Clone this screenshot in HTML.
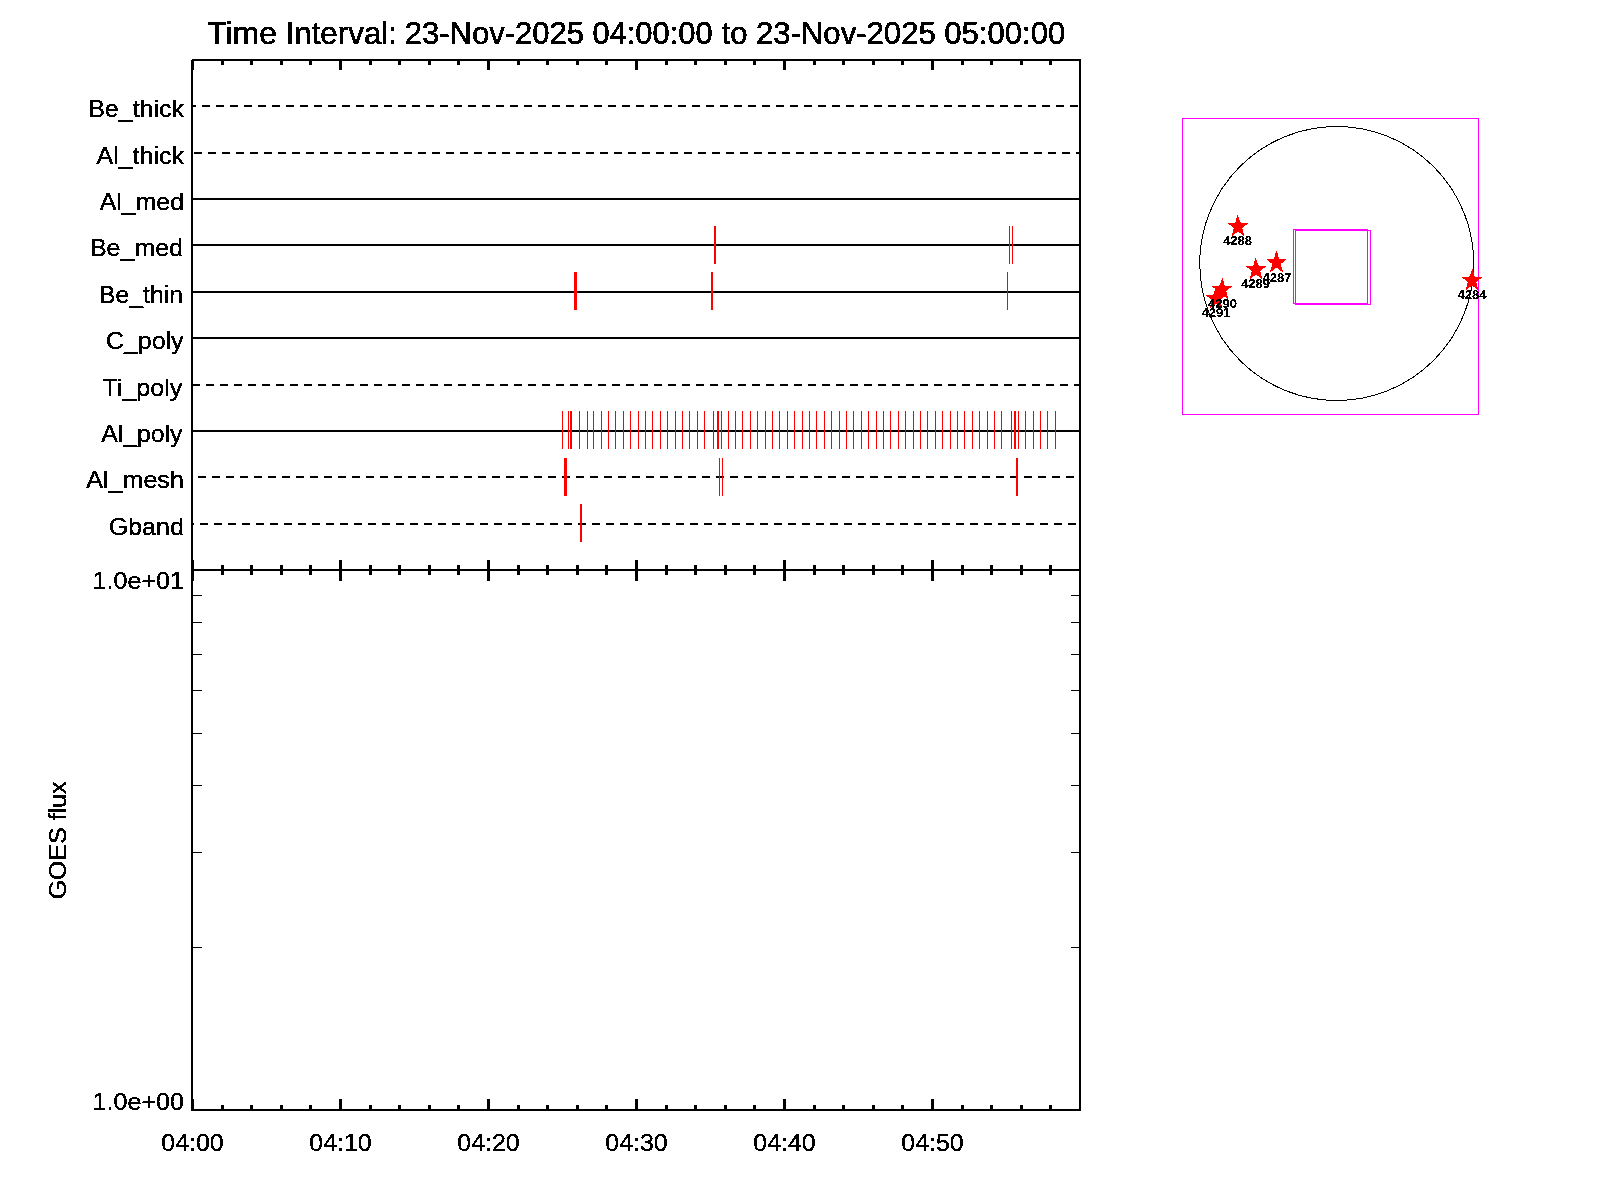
<!DOCTYPE html>
<html><head><meta charset="utf-8"><title>XRT timeline</title>
<style>html,body{margin:0;padding:0;background:#fff;overflow:hidden;width:1600px;height:1200px}svg{display:block}text{font-family:"Liberation Sans",sans-serif;fill:#000}</style>
</head><body>
<svg width="1600" height="1200" viewBox="0 0 1600 1200">
<rect x="0" y="0" width="1600" height="1200" fill="#fff"/>
<defs><filter id="thr" x="0" y="0" width="1600" height="1200" filterUnits="userSpaceOnUse" color-interpolation-filters="sRGB"><feComponentTransfer><feFuncA type="discrete" tableValues="0 1 1 1"/></feComponentTransfer></filter><filter id="thr2" x="0" y="0" width="1600" height="1200" filterUnits="userSpaceOnUse" color-interpolation-filters="sRGB"><feComponentTransfer><feFuncA type="discrete" tableValues="0 0 1 1 1"/></feComponentTransfer></filter><filter id="thr3" x="0" y="0" width="1600" height="1200" filterUnits="userSpaceOnUse" color-interpolation-filters="sRGB"><feComponentTransfer><feFuncA type="discrete" tableValues="0 1 1 1 1 1 1"/></feComponentTransfer></filter></defs>
<g shape-rendering="crispEdges">
<rect x="191" y="59" width="2" height="1052" fill="#000"/>
<rect x="1079" y="59" width="2" height="1052" fill="#000"/>
<rect x="191" y="59" width="890" height="2" fill="#000"/>
<rect x="191" y="569" width="890" height="2" fill="#000"/>
<rect x="191" y="1109" width="890" height="2" fill="#000"/>
<rect x="191" y="59" width="1" height="1" fill="#fff"/>
<rect x="192" y="61" width="2" height="9" fill="#000"/>
<rect x="192" y="560" width="2" height="21" fill="#000"/>
<rect x="192" y="1099" width="2" height="10" fill="#000"/>
<rect x="221" y="61" width="3" height="4" fill="#000"/>
<rect x="221" y="565" width="3" height="10" fill="#000"/>
<rect x="221" y="1105" width="3" height="4" fill="#000"/>
<rect x="250" y="61" width="3" height="4" fill="#000"/>
<rect x="250" y="565" width="3" height="10" fill="#000"/>
<rect x="250" y="1105" width="3" height="4" fill="#000"/>
<rect x="280" y="61" width="3" height="4" fill="#000"/>
<rect x="280" y="565" width="3" height="10" fill="#000"/>
<rect x="280" y="1105" width="3" height="4" fill="#000"/>
<rect x="309" y="61" width="3" height="4" fill="#000"/>
<rect x="309" y="565" width="3" height="10" fill="#000"/>
<rect x="309" y="1105" width="3" height="4" fill="#000"/>
<rect x="339" y="61" width="3" height="9" fill="#000"/>
<rect x="339" y="560" width="3" height="21" fill="#000"/>
<rect x="339" y="1099" width="3" height="10" fill="#000"/>
<rect x="369" y="61" width="3" height="4" fill="#000"/>
<rect x="369" y="565" width="3" height="10" fill="#000"/>
<rect x="369" y="1105" width="3" height="4" fill="#000"/>
<rect x="398" y="61" width="3" height="4" fill="#000"/>
<rect x="398" y="565" width="3" height="10" fill="#000"/>
<rect x="398" y="1105" width="3" height="4" fill="#000"/>
<rect x="428" y="61" width="3" height="4" fill="#000"/>
<rect x="428" y="565" width="3" height="10" fill="#000"/>
<rect x="428" y="1105" width="3" height="4" fill="#000"/>
<rect x="457" y="61" width="3" height="4" fill="#000"/>
<rect x="457" y="565" width="3" height="10" fill="#000"/>
<rect x="457" y="1105" width="3" height="4" fill="#000"/>
<rect x="487" y="61" width="3" height="9" fill="#000"/>
<rect x="487" y="560" width="3" height="21" fill="#000"/>
<rect x="487" y="1099" width="3" height="10" fill="#000"/>
<rect x="517" y="61" width="3" height="4" fill="#000"/>
<rect x="517" y="565" width="3" height="10" fill="#000"/>
<rect x="517" y="1105" width="3" height="4" fill="#000"/>
<rect x="546" y="61" width="3" height="4" fill="#000"/>
<rect x="546" y="565" width="3" height="10" fill="#000"/>
<rect x="546" y="1105" width="3" height="4" fill="#000"/>
<rect x="576" y="61" width="3" height="4" fill="#000"/>
<rect x="576" y="565" width="3" height="10" fill="#000"/>
<rect x="576" y="1105" width="3" height="4" fill="#000"/>
<rect x="605" y="61" width="3" height="4" fill="#000"/>
<rect x="605" y="565" width="3" height="10" fill="#000"/>
<rect x="605" y="1105" width="3" height="4" fill="#000"/>
<rect x="635" y="61" width="3" height="9" fill="#000"/>
<rect x="635" y="560" width="3" height="21" fill="#000"/>
<rect x="635" y="1099" width="3" height="10" fill="#000"/>
<rect x="665" y="61" width="3" height="4" fill="#000"/>
<rect x="665" y="565" width="3" height="10" fill="#000"/>
<rect x="665" y="1105" width="3" height="4" fill="#000"/>
<rect x="694" y="61" width="3" height="4" fill="#000"/>
<rect x="694" y="565" width="3" height="10" fill="#000"/>
<rect x="694" y="1105" width="3" height="4" fill="#000"/>
<rect x="724" y="61" width="3" height="4" fill="#000"/>
<rect x="724" y="565" width="3" height="10" fill="#000"/>
<rect x="724" y="1105" width="3" height="4" fill="#000"/>
<rect x="753" y="61" width="3" height="4" fill="#000"/>
<rect x="753" y="565" width="3" height="10" fill="#000"/>
<rect x="753" y="1105" width="3" height="4" fill="#000"/>
<rect x="783" y="61" width="3" height="9" fill="#000"/>
<rect x="783" y="560" width="3" height="21" fill="#000"/>
<rect x="783" y="1099" width="3" height="10" fill="#000"/>
<rect x="813" y="61" width="3" height="4" fill="#000"/>
<rect x="813" y="565" width="3" height="10" fill="#000"/>
<rect x="813" y="1105" width="3" height="4" fill="#000"/>
<rect x="842" y="61" width="3" height="4" fill="#000"/>
<rect x="842" y="565" width="3" height="10" fill="#000"/>
<rect x="842" y="1105" width="3" height="4" fill="#000"/>
<rect x="872" y="61" width="3" height="4" fill="#000"/>
<rect x="872" y="565" width="3" height="10" fill="#000"/>
<rect x="872" y="1105" width="3" height="4" fill="#000"/>
<rect x="901" y="61" width="3" height="4" fill="#000"/>
<rect x="901" y="565" width="3" height="10" fill="#000"/>
<rect x="901" y="1105" width="3" height="4" fill="#000"/>
<rect x="931" y="61" width="3" height="9" fill="#000"/>
<rect x="931" y="560" width="3" height="21" fill="#000"/>
<rect x="931" y="1099" width="3" height="10" fill="#000"/>
<rect x="961" y="61" width="3" height="4" fill="#000"/>
<rect x="961" y="565" width="3" height="10" fill="#000"/>
<rect x="961" y="1105" width="3" height="4" fill="#000"/>
<rect x="990" y="61" width="3" height="4" fill="#000"/>
<rect x="990" y="565" width="3" height="10" fill="#000"/>
<rect x="990" y="1105" width="3" height="4" fill="#000"/>
<rect x="1020" y="61" width="3" height="4" fill="#000"/>
<rect x="1020" y="565" width="3" height="10" fill="#000"/>
<rect x="1020" y="1105" width="3" height="4" fill="#000"/>
<rect x="1049" y="61" width="3" height="4" fill="#000"/>
<rect x="1049" y="565" width="3" height="10" fill="#000"/>
<rect x="1049" y="1105" width="3" height="4" fill="#000"/>
<rect x="193" y="595" width="9" height="1" fill="#000"/>
<rect x="1071" y="595" width="8" height="1" fill="#000"/>
<rect x="193" y="622" width="9" height="1" fill="#000"/>
<rect x="1071" y="622" width="8" height="1" fill="#000"/>
<rect x="193" y="654" width="9" height="1" fill="#000"/>
<rect x="1071" y="654" width="8" height="1" fill="#000"/>
<rect x="193" y="690" width="9" height="1" fill="#000"/>
<rect x="1071" y="690" width="8" height="1" fill="#000"/>
<rect x="193" y="733" width="9" height="1" fill="#000"/>
<rect x="1071" y="733" width="8" height="1" fill="#000"/>
<rect x="193" y="785" width="9" height="1" fill="#000"/>
<rect x="1071" y="785" width="8" height="1" fill="#000"/>
<rect x="193" y="852" width="9" height="1" fill="#000"/>
<rect x="1071" y="852" width="8" height="1" fill="#000"/>
<rect x="193" y="947" width="9" height="1" fill="#000"/>
<rect x="1071" y="947" width="8" height="1" fill="#000"/>
<rect x="193" y="105" width="3" height="2" fill="#000"/>
<rect x="202" y="105" width="8" height="2" fill="#000"/>
<rect x="216" y="105" width="8" height="2" fill="#000"/>
<rect x="230" y="105" width="8" height="2" fill="#000"/>
<rect x="244" y="105" width="8" height="2" fill="#000"/>
<rect x="258" y="105" width="8" height="2" fill="#000"/>
<rect x="272" y="105" width="8" height="2" fill="#000"/>
<rect x="286" y="105" width="8" height="2" fill="#000"/>
<rect x="300" y="105" width="8" height="2" fill="#000"/>
<rect x="314" y="105" width="8" height="2" fill="#000"/>
<rect x="328" y="105" width="8" height="2" fill="#000"/>
<rect x="342" y="105" width="8" height="2" fill="#000"/>
<rect x="356" y="105" width="8" height="2" fill="#000"/>
<rect x="370" y="105" width="8" height="2" fill="#000"/>
<rect x="384" y="105" width="8" height="2" fill="#000"/>
<rect x="398" y="105" width="8" height="2" fill="#000"/>
<rect x="412" y="105" width="8" height="2" fill="#000"/>
<rect x="426" y="105" width="8" height="2" fill="#000"/>
<rect x="440" y="105" width="8" height="2" fill="#000"/>
<rect x="454" y="105" width="8" height="2" fill="#000"/>
<rect x="468" y="105" width="8" height="2" fill="#000"/>
<rect x="482" y="105" width="8" height="2" fill="#000"/>
<rect x="496" y="105" width="8" height="2" fill="#000"/>
<rect x="510" y="105" width="8" height="2" fill="#000"/>
<rect x="524" y="105" width="8" height="2" fill="#000"/>
<rect x="538" y="105" width="8" height="2" fill="#000"/>
<rect x="552" y="105" width="8" height="2" fill="#000"/>
<rect x="566" y="105" width="8" height="2" fill="#000"/>
<rect x="580" y="105" width="8" height="2" fill="#000"/>
<rect x="594" y="105" width="8" height="2" fill="#000"/>
<rect x="608" y="105" width="8" height="2" fill="#000"/>
<rect x="622" y="105" width="8" height="2" fill="#000"/>
<rect x="636" y="105" width="8" height="2" fill="#000"/>
<rect x="650" y="105" width="8" height="2" fill="#000"/>
<rect x="664" y="105" width="8" height="2" fill="#000"/>
<rect x="678" y="105" width="8" height="2" fill="#000"/>
<rect x="692" y="105" width="8" height="2" fill="#000"/>
<rect x="706" y="105" width="8" height="2" fill="#000"/>
<rect x="720" y="105" width="8" height="2" fill="#000"/>
<rect x="734" y="105" width="8" height="2" fill="#000"/>
<rect x="748" y="105" width="8" height="2" fill="#000"/>
<rect x="762" y="105" width="8" height="2" fill="#000"/>
<rect x="776" y="105" width="8" height="2" fill="#000"/>
<rect x="790" y="105" width="8" height="2" fill="#000"/>
<rect x="804" y="105" width="8" height="2" fill="#000"/>
<rect x="818" y="105" width="8" height="2" fill="#000"/>
<rect x="832" y="105" width="8" height="2" fill="#000"/>
<rect x="846" y="105" width="8" height="2" fill="#000"/>
<rect x="860" y="105" width="8" height="2" fill="#000"/>
<rect x="874" y="105" width="8" height="2" fill="#000"/>
<rect x="888" y="105" width="8" height="2" fill="#000"/>
<rect x="902" y="105" width="8" height="2" fill="#000"/>
<rect x="916" y="105" width="8" height="2" fill="#000"/>
<rect x="930" y="105" width="8" height="2" fill="#000"/>
<rect x="944" y="105" width="8" height="2" fill="#000"/>
<rect x="958" y="105" width="8" height="2" fill="#000"/>
<rect x="972" y="105" width="8" height="2" fill="#000"/>
<rect x="986" y="105" width="8" height="2" fill="#000"/>
<rect x="1000" y="105" width="8" height="2" fill="#000"/>
<rect x="1014" y="105" width="8" height="2" fill="#000"/>
<rect x="1028" y="105" width="8" height="2" fill="#000"/>
<rect x="1042" y="105" width="8" height="2" fill="#000"/>
<rect x="1056" y="105" width="8" height="2" fill="#000"/>
<rect x="1070" y="105" width="8" height="2" fill="#000"/>
<rect x="194" y="152" width="8" height="2" fill="#000"/>
<rect x="208" y="152" width="8" height="2" fill="#000"/>
<rect x="222" y="152" width="8" height="2" fill="#000"/>
<rect x="236" y="152" width="8" height="2" fill="#000"/>
<rect x="250" y="152" width="8" height="2" fill="#000"/>
<rect x="264" y="152" width="8" height="2" fill="#000"/>
<rect x="278" y="152" width="8" height="2" fill="#000"/>
<rect x="292" y="152" width="8" height="2" fill="#000"/>
<rect x="306" y="152" width="8" height="2" fill="#000"/>
<rect x="320" y="152" width="8" height="2" fill="#000"/>
<rect x="334" y="152" width="8" height="2" fill="#000"/>
<rect x="348" y="152" width="8" height="2" fill="#000"/>
<rect x="362" y="152" width="8" height="2" fill="#000"/>
<rect x="376" y="152" width="8" height="2" fill="#000"/>
<rect x="390" y="152" width="8" height="2" fill="#000"/>
<rect x="404" y="152" width="8" height="2" fill="#000"/>
<rect x="418" y="152" width="8" height="2" fill="#000"/>
<rect x="432" y="152" width="8" height="2" fill="#000"/>
<rect x="446" y="152" width="8" height="2" fill="#000"/>
<rect x="460" y="152" width="8" height="2" fill="#000"/>
<rect x="474" y="152" width="8" height="2" fill="#000"/>
<rect x="488" y="152" width="8" height="2" fill="#000"/>
<rect x="502" y="152" width="8" height="2" fill="#000"/>
<rect x="516" y="152" width="8" height="2" fill="#000"/>
<rect x="530" y="152" width="8" height="2" fill="#000"/>
<rect x="544" y="152" width="8" height="2" fill="#000"/>
<rect x="558" y="152" width="8" height="2" fill="#000"/>
<rect x="572" y="152" width="8" height="2" fill="#000"/>
<rect x="586" y="152" width="8" height="2" fill="#000"/>
<rect x="600" y="152" width="8" height="2" fill="#000"/>
<rect x="614" y="152" width="8" height="2" fill="#000"/>
<rect x="628" y="152" width="8" height="2" fill="#000"/>
<rect x="642" y="152" width="8" height="2" fill="#000"/>
<rect x="656" y="152" width="8" height="2" fill="#000"/>
<rect x="670" y="152" width="8" height="2" fill="#000"/>
<rect x="684" y="152" width="8" height="2" fill="#000"/>
<rect x="698" y="152" width="8" height="2" fill="#000"/>
<rect x="712" y="152" width="8" height="2" fill="#000"/>
<rect x="726" y="152" width="8" height="2" fill="#000"/>
<rect x="740" y="152" width="8" height="2" fill="#000"/>
<rect x="754" y="152" width="8" height="2" fill="#000"/>
<rect x="768" y="152" width="8" height="2" fill="#000"/>
<rect x="782" y="152" width="8" height="2" fill="#000"/>
<rect x="796" y="152" width="8" height="2" fill="#000"/>
<rect x="810" y="152" width="8" height="2" fill="#000"/>
<rect x="824" y="152" width="8" height="2" fill="#000"/>
<rect x="838" y="152" width="8" height="2" fill="#000"/>
<rect x="852" y="152" width="8" height="2" fill="#000"/>
<rect x="866" y="152" width="8" height="2" fill="#000"/>
<rect x="880" y="152" width="8" height="2" fill="#000"/>
<rect x="894" y="152" width="8" height="2" fill="#000"/>
<rect x="908" y="152" width="8" height="2" fill="#000"/>
<rect x="922" y="152" width="8" height="2" fill="#000"/>
<rect x="936" y="152" width="8" height="2" fill="#000"/>
<rect x="950" y="152" width="8" height="2" fill="#000"/>
<rect x="964" y="152" width="8" height="2" fill="#000"/>
<rect x="978" y="152" width="8" height="2" fill="#000"/>
<rect x="992" y="152" width="8" height="2" fill="#000"/>
<rect x="1006" y="152" width="8" height="2" fill="#000"/>
<rect x="1020" y="152" width="8" height="2" fill="#000"/>
<rect x="1034" y="152" width="8" height="2" fill="#000"/>
<rect x="1048" y="152" width="8" height="2" fill="#000"/>
<rect x="1062" y="152" width="8" height="2" fill="#000"/>
<rect x="1076" y="152" width="3" height="2" fill="#000"/>
<rect x="193" y="198" width="886" height="2" fill="#000"/>
<rect x="193" y="244" width="886" height="2" fill="#000"/>
<rect x="193" y="291" width="886" height="2" fill="#000"/>
<rect x="193" y="337" width="886" height="2" fill="#000"/>
<rect x="193" y="384" width="7" height="2" fill="#000"/>
<rect x="206" y="384" width="8" height="2" fill="#000"/>
<rect x="220" y="384" width="8" height="2" fill="#000"/>
<rect x="234" y="384" width="8" height="2" fill="#000"/>
<rect x="248" y="384" width="8" height="2" fill="#000"/>
<rect x="262" y="384" width="8" height="2" fill="#000"/>
<rect x="276" y="384" width="8" height="2" fill="#000"/>
<rect x="290" y="384" width="8" height="2" fill="#000"/>
<rect x="304" y="384" width="8" height="2" fill="#000"/>
<rect x="318" y="384" width="8" height="2" fill="#000"/>
<rect x="332" y="384" width="8" height="2" fill="#000"/>
<rect x="346" y="384" width="8" height="2" fill="#000"/>
<rect x="360" y="384" width="8" height="2" fill="#000"/>
<rect x="374" y="384" width="8" height="2" fill="#000"/>
<rect x="388" y="384" width="8" height="2" fill="#000"/>
<rect x="402" y="384" width="8" height="2" fill="#000"/>
<rect x="416" y="384" width="8" height="2" fill="#000"/>
<rect x="430" y="384" width="8" height="2" fill="#000"/>
<rect x="444" y="384" width="8" height="2" fill="#000"/>
<rect x="458" y="384" width="8" height="2" fill="#000"/>
<rect x="472" y="384" width="8" height="2" fill="#000"/>
<rect x="486" y="384" width="8" height="2" fill="#000"/>
<rect x="500" y="384" width="8" height="2" fill="#000"/>
<rect x="514" y="384" width="8" height="2" fill="#000"/>
<rect x="528" y="384" width="8" height="2" fill="#000"/>
<rect x="542" y="384" width="8" height="2" fill="#000"/>
<rect x="556" y="384" width="8" height="2" fill="#000"/>
<rect x="570" y="384" width="8" height="2" fill="#000"/>
<rect x="584" y="384" width="8" height="2" fill="#000"/>
<rect x="598" y="384" width="8" height="2" fill="#000"/>
<rect x="612" y="384" width="8" height="2" fill="#000"/>
<rect x="626" y="384" width="8" height="2" fill="#000"/>
<rect x="640" y="384" width="8" height="2" fill="#000"/>
<rect x="654" y="384" width="8" height="2" fill="#000"/>
<rect x="668" y="384" width="8" height="2" fill="#000"/>
<rect x="682" y="384" width="8" height="2" fill="#000"/>
<rect x="696" y="384" width="8" height="2" fill="#000"/>
<rect x="710" y="384" width="8" height="2" fill="#000"/>
<rect x="724" y="384" width="8" height="2" fill="#000"/>
<rect x="738" y="384" width="8" height="2" fill="#000"/>
<rect x="752" y="384" width="8" height="2" fill="#000"/>
<rect x="766" y="384" width="8" height="2" fill="#000"/>
<rect x="780" y="384" width="8" height="2" fill="#000"/>
<rect x="794" y="384" width="8" height="2" fill="#000"/>
<rect x="808" y="384" width="8" height="2" fill="#000"/>
<rect x="822" y="384" width="8" height="2" fill="#000"/>
<rect x="836" y="384" width="8" height="2" fill="#000"/>
<rect x="850" y="384" width="8" height="2" fill="#000"/>
<rect x="864" y="384" width="8" height="2" fill="#000"/>
<rect x="878" y="384" width="8" height="2" fill="#000"/>
<rect x="892" y="384" width="8" height="2" fill="#000"/>
<rect x="906" y="384" width="8" height="2" fill="#000"/>
<rect x="920" y="384" width="8" height="2" fill="#000"/>
<rect x="934" y="384" width="8" height="2" fill="#000"/>
<rect x="948" y="384" width="8" height="2" fill="#000"/>
<rect x="962" y="384" width="8" height="2" fill="#000"/>
<rect x="976" y="384" width="8" height="2" fill="#000"/>
<rect x="990" y="384" width="8" height="2" fill="#000"/>
<rect x="1004" y="384" width="8" height="2" fill="#000"/>
<rect x="1018" y="384" width="8" height="2" fill="#000"/>
<rect x="1032" y="384" width="8" height="2" fill="#000"/>
<rect x="1046" y="384" width="8" height="2" fill="#000"/>
<rect x="1060" y="384" width="8" height="2" fill="#000"/>
<rect x="1074" y="384" width="5" height="2" fill="#000"/>
<rect x="193" y="430" width="886" height="2" fill="#000"/>
<rect x="198" y="476" width="8" height="2" fill="#000"/>
<rect x="212" y="476" width="8" height="2" fill="#000"/>
<rect x="226" y="476" width="8" height="2" fill="#000"/>
<rect x="240" y="476" width="8" height="2" fill="#000"/>
<rect x="254" y="476" width="8" height="2" fill="#000"/>
<rect x="268" y="476" width="8" height="2" fill="#000"/>
<rect x="282" y="476" width="8" height="2" fill="#000"/>
<rect x="296" y="476" width="8" height="2" fill="#000"/>
<rect x="310" y="476" width="8" height="2" fill="#000"/>
<rect x="324" y="476" width="8" height="2" fill="#000"/>
<rect x="338" y="476" width="8" height="2" fill="#000"/>
<rect x="352" y="476" width="8" height="2" fill="#000"/>
<rect x="366" y="476" width="8" height="2" fill="#000"/>
<rect x="380" y="476" width="8" height="2" fill="#000"/>
<rect x="394" y="476" width="8" height="2" fill="#000"/>
<rect x="408" y="476" width="8" height="2" fill="#000"/>
<rect x="422" y="476" width="8" height="2" fill="#000"/>
<rect x="436" y="476" width="8" height="2" fill="#000"/>
<rect x="450" y="476" width="8" height="2" fill="#000"/>
<rect x="464" y="476" width="8" height="2" fill="#000"/>
<rect x="478" y="476" width="8" height="2" fill="#000"/>
<rect x="492" y="476" width="8" height="2" fill="#000"/>
<rect x="506" y="476" width="8" height="2" fill="#000"/>
<rect x="520" y="476" width="8" height="2" fill="#000"/>
<rect x="534" y="476" width="8" height="2" fill="#000"/>
<rect x="548" y="476" width="8" height="2" fill="#000"/>
<rect x="562" y="476" width="8" height="2" fill="#000"/>
<rect x="576" y="476" width="8" height="2" fill="#000"/>
<rect x="590" y="476" width="8" height="2" fill="#000"/>
<rect x="604" y="476" width="8" height="2" fill="#000"/>
<rect x="618" y="476" width="8" height="2" fill="#000"/>
<rect x="632" y="476" width="8" height="2" fill="#000"/>
<rect x="646" y="476" width="8" height="2" fill="#000"/>
<rect x="660" y="476" width="8" height="2" fill="#000"/>
<rect x="674" y="476" width="8" height="2" fill="#000"/>
<rect x="688" y="476" width="8" height="2" fill="#000"/>
<rect x="702" y="476" width="8" height="2" fill="#000"/>
<rect x="716" y="476" width="8" height="2" fill="#000"/>
<rect x="730" y="476" width="8" height="2" fill="#000"/>
<rect x="744" y="476" width="8" height="2" fill="#000"/>
<rect x="758" y="476" width="8" height="2" fill="#000"/>
<rect x="772" y="476" width="8" height="2" fill="#000"/>
<rect x="786" y="476" width="8" height="2" fill="#000"/>
<rect x="800" y="476" width="8" height="2" fill="#000"/>
<rect x="814" y="476" width="8" height="2" fill="#000"/>
<rect x="828" y="476" width="8" height="2" fill="#000"/>
<rect x="842" y="476" width="8" height="2" fill="#000"/>
<rect x="856" y="476" width="8" height="2" fill="#000"/>
<rect x="870" y="476" width="8" height="2" fill="#000"/>
<rect x="884" y="476" width="8" height="2" fill="#000"/>
<rect x="898" y="476" width="8" height="2" fill="#000"/>
<rect x="912" y="476" width="8" height="2" fill="#000"/>
<rect x="926" y="476" width="8" height="2" fill="#000"/>
<rect x="940" y="476" width="8" height="2" fill="#000"/>
<rect x="954" y="476" width="8" height="2" fill="#000"/>
<rect x="968" y="476" width="8" height="2" fill="#000"/>
<rect x="982" y="476" width="8" height="2" fill="#000"/>
<rect x="996" y="476" width="8" height="2" fill="#000"/>
<rect x="1010" y="476" width="8" height="2" fill="#000"/>
<rect x="1024" y="476" width="8" height="2" fill="#000"/>
<rect x="1038" y="476" width="8" height="2" fill="#000"/>
<rect x="1052" y="476" width="8" height="2" fill="#000"/>
<rect x="1066" y="476" width="8" height="2" fill="#000"/>
<rect x="193" y="523" width="1" height="2" fill="#000"/>
<rect x="200" y="523" width="8" height="2" fill="#000"/>
<rect x="214" y="523" width="8" height="2" fill="#000"/>
<rect x="228" y="523" width="8" height="2" fill="#000"/>
<rect x="242" y="523" width="8" height="2" fill="#000"/>
<rect x="256" y="523" width="8" height="2" fill="#000"/>
<rect x="270" y="523" width="8" height="2" fill="#000"/>
<rect x="284" y="523" width="8" height="2" fill="#000"/>
<rect x="298" y="523" width="8" height="2" fill="#000"/>
<rect x="312" y="523" width="8" height="2" fill="#000"/>
<rect x="326" y="523" width="8" height="2" fill="#000"/>
<rect x="340" y="523" width="8" height="2" fill="#000"/>
<rect x="354" y="523" width="8" height="2" fill="#000"/>
<rect x="368" y="523" width="8" height="2" fill="#000"/>
<rect x="382" y="523" width="8" height="2" fill="#000"/>
<rect x="396" y="523" width="8" height="2" fill="#000"/>
<rect x="410" y="523" width="8" height="2" fill="#000"/>
<rect x="424" y="523" width="8" height="2" fill="#000"/>
<rect x="438" y="523" width="8" height="2" fill="#000"/>
<rect x="452" y="523" width="8" height="2" fill="#000"/>
<rect x="466" y="523" width="8" height="2" fill="#000"/>
<rect x="480" y="523" width="8" height="2" fill="#000"/>
<rect x="494" y="523" width="8" height="2" fill="#000"/>
<rect x="508" y="523" width="8" height="2" fill="#000"/>
<rect x="522" y="523" width="8" height="2" fill="#000"/>
<rect x="536" y="523" width="8" height="2" fill="#000"/>
<rect x="550" y="523" width="8" height="2" fill="#000"/>
<rect x="564" y="523" width="8" height="2" fill="#000"/>
<rect x="578" y="523" width="8" height="2" fill="#000"/>
<rect x="592" y="523" width="8" height="2" fill="#000"/>
<rect x="606" y="523" width="8" height="2" fill="#000"/>
<rect x="620" y="523" width="8" height="2" fill="#000"/>
<rect x="634" y="523" width="8" height="2" fill="#000"/>
<rect x="648" y="523" width="8" height="2" fill="#000"/>
<rect x="662" y="523" width="8" height="2" fill="#000"/>
<rect x="676" y="523" width="8" height="2" fill="#000"/>
<rect x="690" y="523" width="8" height="2" fill="#000"/>
<rect x="704" y="523" width="8" height="2" fill="#000"/>
<rect x="718" y="523" width="8" height="2" fill="#000"/>
<rect x="732" y="523" width="8" height="2" fill="#000"/>
<rect x="746" y="523" width="8" height="2" fill="#000"/>
<rect x="760" y="523" width="8" height="2" fill="#000"/>
<rect x="774" y="523" width="8" height="2" fill="#000"/>
<rect x="788" y="523" width="8" height="2" fill="#000"/>
<rect x="802" y="523" width="8" height="2" fill="#000"/>
<rect x="816" y="523" width="8" height="2" fill="#000"/>
<rect x="830" y="523" width="8" height="2" fill="#000"/>
<rect x="844" y="523" width="8" height="2" fill="#000"/>
<rect x="858" y="523" width="8" height="2" fill="#000"/>
<rect x="872" y="523" width="8" height="2" fill="#000"/>
<rect x="886" y="523" width="8" height="2" fill="#000"/>
<rect x="900" y="523" width="8" height="2" fill="#000"/>
<rect x="914" y="523" width="8" height="2" fill="#000"/>
<rect x="928" y="523" width="8" height="2" fill="#000"/>
<rect x="942" y="523" width="8" height="2" fill="#000"/>
<rect x="956" y="523" width="8" height="2" fill="#000"/>
<rect x="970" y="523" width="8" height="2" fill="#000"/>
<rect x="984" y="523" width="8" height="2" fill="#000"/>
<rect x="998" y="523" width="8" height="2" fill="#000"/>
<rect x="1012" y="523" width="8" height="2" fill="#000"/>
<rect x="1026" y="523" width="8" height="2" fill="#000"/>
<rect x="1040" y="523" width="8" height="2" fill="#000"/>
<rect x="1054" y="523" width="8" height="2" fill="#000"/>
<rect x="1068" y="523" width="8" height="2" fill="#000"/>
<rect x="714" y="226" width="2" height="38" fill="#ff0000"/>
<rect x="1009" y="226" width="1" height="38" fill="#ff0000"/>
<rect x="1012" y="226" width="1" height="38" fill="#ff0000"/>
<rect x="574" y="272" width="3" height="38" fill="#ff0000"/>
<rect x="711" y="272" width="2" height="38" fill="#ff0000"/>
<rect x="1007" y="272" width="1" height="38" fill="#ff0000"/>
<rect x="562" y="411" width="1" height="38" fill="#ff0000"/>
<rect x="568" y="411" width="1" height="38" fill="#ff0000"/>
<rect x="570" y="411" width="2" height="38" fill="#ff0000"/>
<rect x="579" y="411" width="1" height="38" fill="#ff0000"/>
<rect x="587" y="411" width="1" height="38" fill="#ff0000"/>
<rect x="593" y="411" width="1" height="38" fill="#ff0000"/>
<rect x="601" y="411" width="1" height="38" fill="#ff0000"/>
<rect x="608" y="411" width="1" height="38" fill="#ff0000"/>
<rect x="615" y="411" width="1" height="38" fill="#ff0000"/>
<rect x="623" y="411" width="1" height="38" fill="#ff0000"/>
<rect x="630" y="411" width="1" height="38" fill="#ff0000"/>
<rect x="638" y="411" width="1" height="38" fill="#ff0000"/>
<rect x="645" y="411" width="1" height="38" fill="#ff0000"/>
<rect x="652" y="411" width="1" height="38" fill="#ff0000"/>
<rect x="660" y="411" width="1" height="38" fill="#ff0000"/>
<rect x="667" y="411" width="1" height="38" fill="#ff0000"/>
<rect x="675" y="411" width="1" height="38" fill="#ff0000"/>
<rect x="682" y="411" width="1" height="38" fill="#ff0000"/>
<rect x="689" y="411" width="1" height="38" fill="#ff0000"/>
<rect x="697" y="411" width="1" height="38" fill="#ff0000"/>
<rect x="704" y="411" width="1" height="38" fill="#ff0000"/>
<rect x="713" y="411" width="1" height="38" fill="#ff0000"/>
<rect x="717" y="411" width="2" height="38" fill="#ff0000"/>
<rect x="721" y="411" width="1" height="38" fill="#ff0000"/>
<rect x="728" y="411" width="1" height="38" fill="#ff0000"/>
<rect x="735" y="411" width="1" height="38" fill="#ff0000"/>
<rect x="742" y="411" width="1" height="38" fill="#ff0000"/>
<rect x="750" y="411" width="1" height="38" fill="#ff0000"/>
<rect x="757" y="411" width="1" height="38" fill="#ff0000"/>
<rect x="765" y="411" width="1" height="38" fill="#ff0000"/>
<rect x="772" y="411" width="1" height="38" fill="#ff0000"/>
<rect x="779" y="411" width="1" height="38" fill="#ff0000"/>
<rect x="787" y="411" width="1" height="38" fill="#ff0000"/>
<rect x="794" y="411" width="1" height="38" fill="#ff0000"/>
<rect x="802" y="411" width="1" height="38" fill="#ff0000"/>
<rect x="809" y="411" width="1" height="38" fill="#ff0000"/>
<rect x="816" y="411" width="1" height="38" fill="#ff0000"/>
<rect x="824" y="411" width="1" height="38" fill="#ff0000"/>
<rect x="831" y="411" width="1" height="38" fill="#ff0000"/>
<rect x="839" y="411" width="1" height="38" fill="#ff0000"/>
<rect x="846" y="411" width="1" height="38" fill="#ff0000"/>
<rect x="853" y="411" width="1" height="38" fill="#ff0000"/>
<rect x="861" y="411" width="1" height="38" fill="#ff0000"/>
<rect x="868" y="411" width="1" height="38" fill="#ff0000"/>
<rect x="876" y="411" width="1" height="38" fill="#ff0000"/>
<rect x="883" y="411" width="1" height="38" fill="#ff0000"/>
<rect x="890" y="411" width="1" height="38" fill="#ff0000"/>
<rect x="898" y="411" width="1" height="38" fill="#ff0000"/>
<rect x="905" y="411" width="1" height="38" fill="#ff0000"/>
<rect x="913" y="411" width="1" height="38" fill="#ff0000"/>
<rect x="920" y="411" width="1" height="38" fill="#ff0000"/>
<rect x="927" y="411" width="1" height="38" fill="#ff0000"/>
<rect x="935" y="411" width="1" height="38" fill="#ff0000"/>
<rect x="942" y="411" width="1" height="38" fill="#ff0000"/>
<rect x="950" y="411" width="1" height="38" fill="#ff0000"/>
<rect x="957" y="411" width="1" height="38" fill="#ff0000"/>
<rect x="964" y="411" width="1" height="38" fill="#ff0000"/>
<rect x="972" y="411" width="1" height="38" fill="#ff0000"/>
<rect x="979" y="411" width="1" height="38" fill="#ff0000"/>
<rect x="987" y="411" width="1" height="38" fill="#ff0000"/>
<rect x="994" y="411" width="1" height="38" fill="#ff0000"/>
<rect x="1001" y="411" width="1" height="38" fill="#ff0000"/>
<rect x="1011" y="411" width="1" height="38" fill="#ff0000"/>
<rect x="1014" y="411" width="2" height="38" fill="#ff0000"/>
<rect x="1018" y="411" width="1" height="38" fill="#ff0000"/>
<rect x="1025" y="411" width="1" height="38" fill="#ff0000"/>
<rect x="1033" y="411" width="1" height="38" fill="#ff0000"/>
<rect x="1040" y="411" width="1" height="38" fill="#ff0000"/>
<rect x="1047" y="411" width="1" height="38" fill="#ff0000"/>
<rect x="1055" y="411" width="1" height="38" fill="#ff0000"/>
<rect x="564" y="458" width="3" height="38" fill="#ff0000"/>
<rect x="719" y="458" width="1" height="38" fill="#ff0000"/>
<rect x="722" y="458" width="1" height="38" fill="#ff0000"/>
<rect x="1016" y="458" width="2" height="38" fill="#ff0000"/>
<rect x="580" y="504" width="2" height="38" fill="#ff0000"/>
</g>
<g filter="url(#thr3)">
<text transform="translate(207.2,44) scale(1.0306,1)" font-size="31" text-anchor="start">Time</text>
<text transform="translate(285.49,44) scale(1.0119,1)" font-size="31" text-anchor="start">Interval:</text>
<text transform="translate(404.66,44) scale(1.0016,1)" font-size="31" text-anchor="start">23-Nov-2025</text>
<text transform="translate(592.51,44) scale(0.9952,1)" font-size="31" text-anchor="start">04:00:00</text>
<text transform="translate(721.59,44) scale(1.0045,1)" font-size="31" text-anchor="start">to</text>
<text transform="translate(755.89,44) scale(1.0045,1)" font-size="31" text-anchor="start">23-Nov-2025</text>
<text transform="translate(944.2,44) scale(1.0042,1)" font-size="31" text-anchor="start">05:00:00</text>
</g>
<g filter="url(#thr)">
<text transform="translate(183.98,117) scale(1.0284,1)" font-size="24.3" text-anchor="end">Be_thick</text>
<text transform="translate(183.98,164) scale(1.0288,1)" font-size="24.3" text-anchor="end">Al_thick</text>
<text transform="translate(184.02,210) scale(1.0239,1)" font-size="24.3" text-anchor="end">Al_med</text>
<text transform="translate(183.02,256) scale(1.0292,1)" font-size="24.3" text-anchor="end">Be_med</text>
<text transform="translate(183.02,303) scale(1.0214,1)" font-size="24.3" text-anchor="end">Be_thin</text>
<text transform="translate(183.58,349) scale(1.0276,1)" font-size="24.3" text-anchor="end">C_poly</text>
<text transform="translate(182.46,396) scale(1.0362,1)" font-size="24.3" text-anchor="end">Ti_poly</text>
<text transform="translate(182.46,442) scale(1.0181,1)" font-size="24.3" text-anchor="end">Al_poly</text>
<text transform="translate(183.86,488) scale(1.0321,1)" font-size="24.3" text-anchor="end">Al_mesh</text>
<text transform="translate(183.86,535) scale(1.0305,1)" font-size="24.3" text-anchor="end">Gband</text>
<text transform="translate(184,589) scale(1.0329,1)" font-size="24.3" text-anchor="end">1.0e+01</text>
<text transform="translate(184,1110) scale(1.0329,1)" font-size="24.3" text-anchor="end">1.0e+00</text>
<text transform="translate(192.5,1151) scale(1.0288,1)" font-size="24.3" text-anchor="middle">04:00</text>
<text transform="translate(340.5,1151) scale(1.0288,1)" font-size="24.3" text-anchor="middle">04:10</text>
<text transform="translate(488.5,1151) scale(1.0288,1)" font-size="24.3" text-anchor="middle">04:20</text>
<text transform="translate(636.5,1151) scale(1.0288,1)" font-size="24.3" text-anchor="middle">04:30</text>
<text transform="translate(784.5,1151) scale(1.0288,1)" font-size="24.3" text-anchor="middle">04:40</text>
<text transform="translate(932.5,1151) scale(1.0288,1)" font-size="24.3" text-anchor="middle">04:50</text>
<text transform="translate(66,840.5) rotate(-90) scale(1.0288,1)" font-size="24.3" text-anchor="middle">GOES flux</text>
</g>
<g shape-rendering="crispEdges" fill="none" stroke-width="1">
<rect x="1182.5" y="118.5" width="296" height="296" stroke="#ff00ff"/>
<rect x="1293.5" y="229.5" width="74" height="74" stroke="#ff00ff"/>
<rect x="1295.5" y="230.5" width="75" height="74" stroke="#ff00ff"/>
<circle cx="1336.75" cy="263.5" r="137" stroke="#000"/>
</g>
<g filter="url(#thr3)">
<polygon points="1472.50,269.00 1474.36,277.05 1481.99,277.05 1475.81,282.03 1478.17,290.08 1472.00,285.10 1465.83,290.08 1468.19,282.03 1462.01,277.05 1469.64,277.05" fill="#ff0000"/>
<polygon points="1276.50,251.00 1278.86,259.05 1286.49,259.05 1280.31,264.03 1282.67,272.08 1276.50,267.10 1270.33,272.08 1272.69,264.03 1266.51,259.05 1274.14,259.05" fill="#ff0000"/>
<polygon points="1237.50,215.00 1240.36,223.05 1247.99,223.05 1241.81,228.03 1244.17,236.08 1238.00,231.10 1231.83,236.08 1234.19,228.03 1228.01,223.05 1235.64,223.05" fill="#ff0000"/>
<polygon points="1255.50,258.00 1258.36,266.05 1265.99,266.05 1259.81,271.03 1262.17,279.08 1256.00,274.10 1249.83,279.08 1252.19,271.03 1246.01,266.05 1253.64,266.05" fill="#ff0000"/>
<polygon points="1216.00,287.00 1218.36,295.05 1225.99,295.05 1219.81,300.03 1222.17,308.08 1216.00,303.10 1209.83,308.08 1212.19,300.03 1206.01,295.05 1213.64,295.05" fill="#ff0000"/>
<polygon points="1222.50,278.00 1224.36,286.05 1231.99,286.05 1225.81,291.03 1228.17,299.08 1222.00,294.10 1215.83,299.08 1218.19,291.03 1212.01,286.05 1219.64,286.05" fill="#ff0000"/>
<rect x="1217" y="291" width="1" height="1" fill="#ff0000"/>
</g>
<g filter="url(#thr2)">
<text x="1472" y="299" font-size="13" font-weight="bold" text-anchor="middle">4284</text>
<text x="1277" y="282" font-size="13" font-weight="bold" text-anchor="middle">4287</text>
<text x="1237.6" y="245" font-size="13" font-weight="bold" text-anchor="middle">4288</text>
<text x="1255.6" y="288" font-size="13" font-weight="bold" text-anchor="middle">4289</text>
<text x="1216.1" y="317" font-size="13" font-weight="bold" text-anchor="middle">4291</text>
<text x="1222.4" y="308" font-size="13" font-weight="bold" text-anchor="middle">4290</text>
</g>
</svg></body></html>
